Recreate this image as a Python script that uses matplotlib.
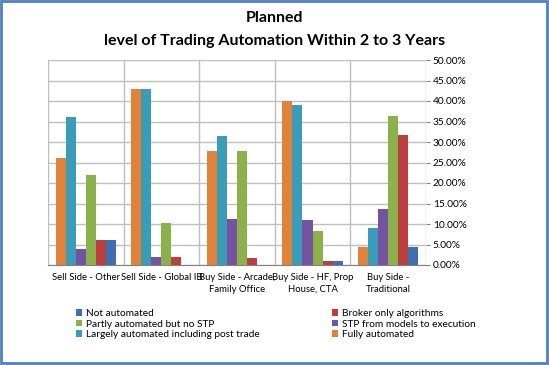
import numpy as np
import matplotlib.pyplot as plt
from matplotlib.patches import Rectangle
from matplotlib.ticker import FuncFormatter

categories = ['Sell Side - Other', 'Sell Side - Global IB', 'Buy Side - Arcade,\nFamily Office',
              'Buy Side - HF, Prop\nHouse, CTA', 'Buy Side -\nTraditional']

# values in percent, one list per answer
fully = [26.0, 42.9, 27.8, 40.0, 4.5]
largely = [36.0, 42.9, 31.5, 39.1, 9.1]
stp = [4.0, 2.0, 11.1, 10.9, 13.6]
partly = [22.0, 10.2, 27.8, 8.2, 36.4]
broker = [6.0, 2.0, 1.8, 0.9, 31.8]
not_auto = [6.0, 0.0, 0.0, 0.9, 4.5]

series = [
    ('Fully automated', fully, '#E0823A'),
    ('Largely automated including post trade', largely, '#3A9CB6'),
    ('STP from models to execution', stp, '#7454A0'),
    ('Partly automated but no STP', partly, '#8CB04A'),
    ('Broker only algorithms', broker, '#BB3F3E'),
    ('Not automated', not_auto, '#3F6FB0'),
]

plt.rcParams['font.family'] = ['Lato', 'DejaVu Sans']

fig = plt.figure(figsize=(5.49, 3.65), dpi=100)
ax = fig.add_axes([48 / 549, 1 - 265 / 365, (426 - 48) / 549, (265 - 60) / 365])

x = np.arange(len(categories))
w = 0.133
handles = {}
for i, (name, vals, col) in enumerate(series):
    b = ax.bar(x - 0.4 + w * (i + 0.5), vals, width=w, color=col, zorder=3)
    handles[name] = b

ax.set_xlim(-0.5, len(categories) - 0.5)
ax.set_ylim(0, 50)
ax.set_yticks(np.arange(0, 51, 5))
ax.yaxis.tick_right()
ax.yaxis.set_major_formatter(FuncFormatter(lambda v, p: f'{v:.2f}%'))
ax.grid(axis='y', color='#BFBFBF', linewidth=1, zorder=0)
ax.set_xticks(np.arange(len(categories) + 1) - 0.5, minor=True)
ax.grid(axis='x', which='minor', color='#BFBFBF', linewidth=1, zorder=0)
ax.set_xticks(x)
ax.set_xticklabels(categories, fontsize=6.8, linespacing=1.35)
ax.tick_params(axis='x', which='both', length=0, pad=6)
ax.tick_params(axis='y', labelsize=7.3, length=3, color='#808080', pad=2)
for s in ['top', 'left', 'right']:
    ax.spines[s].set_visible(False)
ax.spines['bottom'].set_color('#808080')

fig.text(0.50, 0.952, 'Planned', ha='center', va='center', fontsize=11.5, fontweight='bold')
fig.text(0.50, 0.888, 'level of Trading Automation Within 2 to 3 Years', ha='center', va='center',
         fontsize=11.5, fontweight='bold')

order = ['Not automated', 'Partly automated but no STP', 'Largely automated including post trade',
         'Broker only algorithms', 'STP from models to execution', 'Fully automated']
leg = fig.legend([handles[n] for n in order], order, ncol=2, loc='upper left',
                 bbox_to_anchor=(74 / 549, 1 - 307 / 365), frameon=False, fontsize=7.3,
                 handlelength=0.6, handleheight=0.6, handletextpad=0.4,
                 columnspacing=7.1, labelspacing=0.15, borderaxespad=0, borderpad=0.2)

fig.patches.append(Rectangle((0.002, 0.006), 0.995, 0.99, transform=fig.transFigure,
                             fill=False, edgecolor='#4F81BD', linewidth=2))

fig.savefig('out.png', dpi=100)
